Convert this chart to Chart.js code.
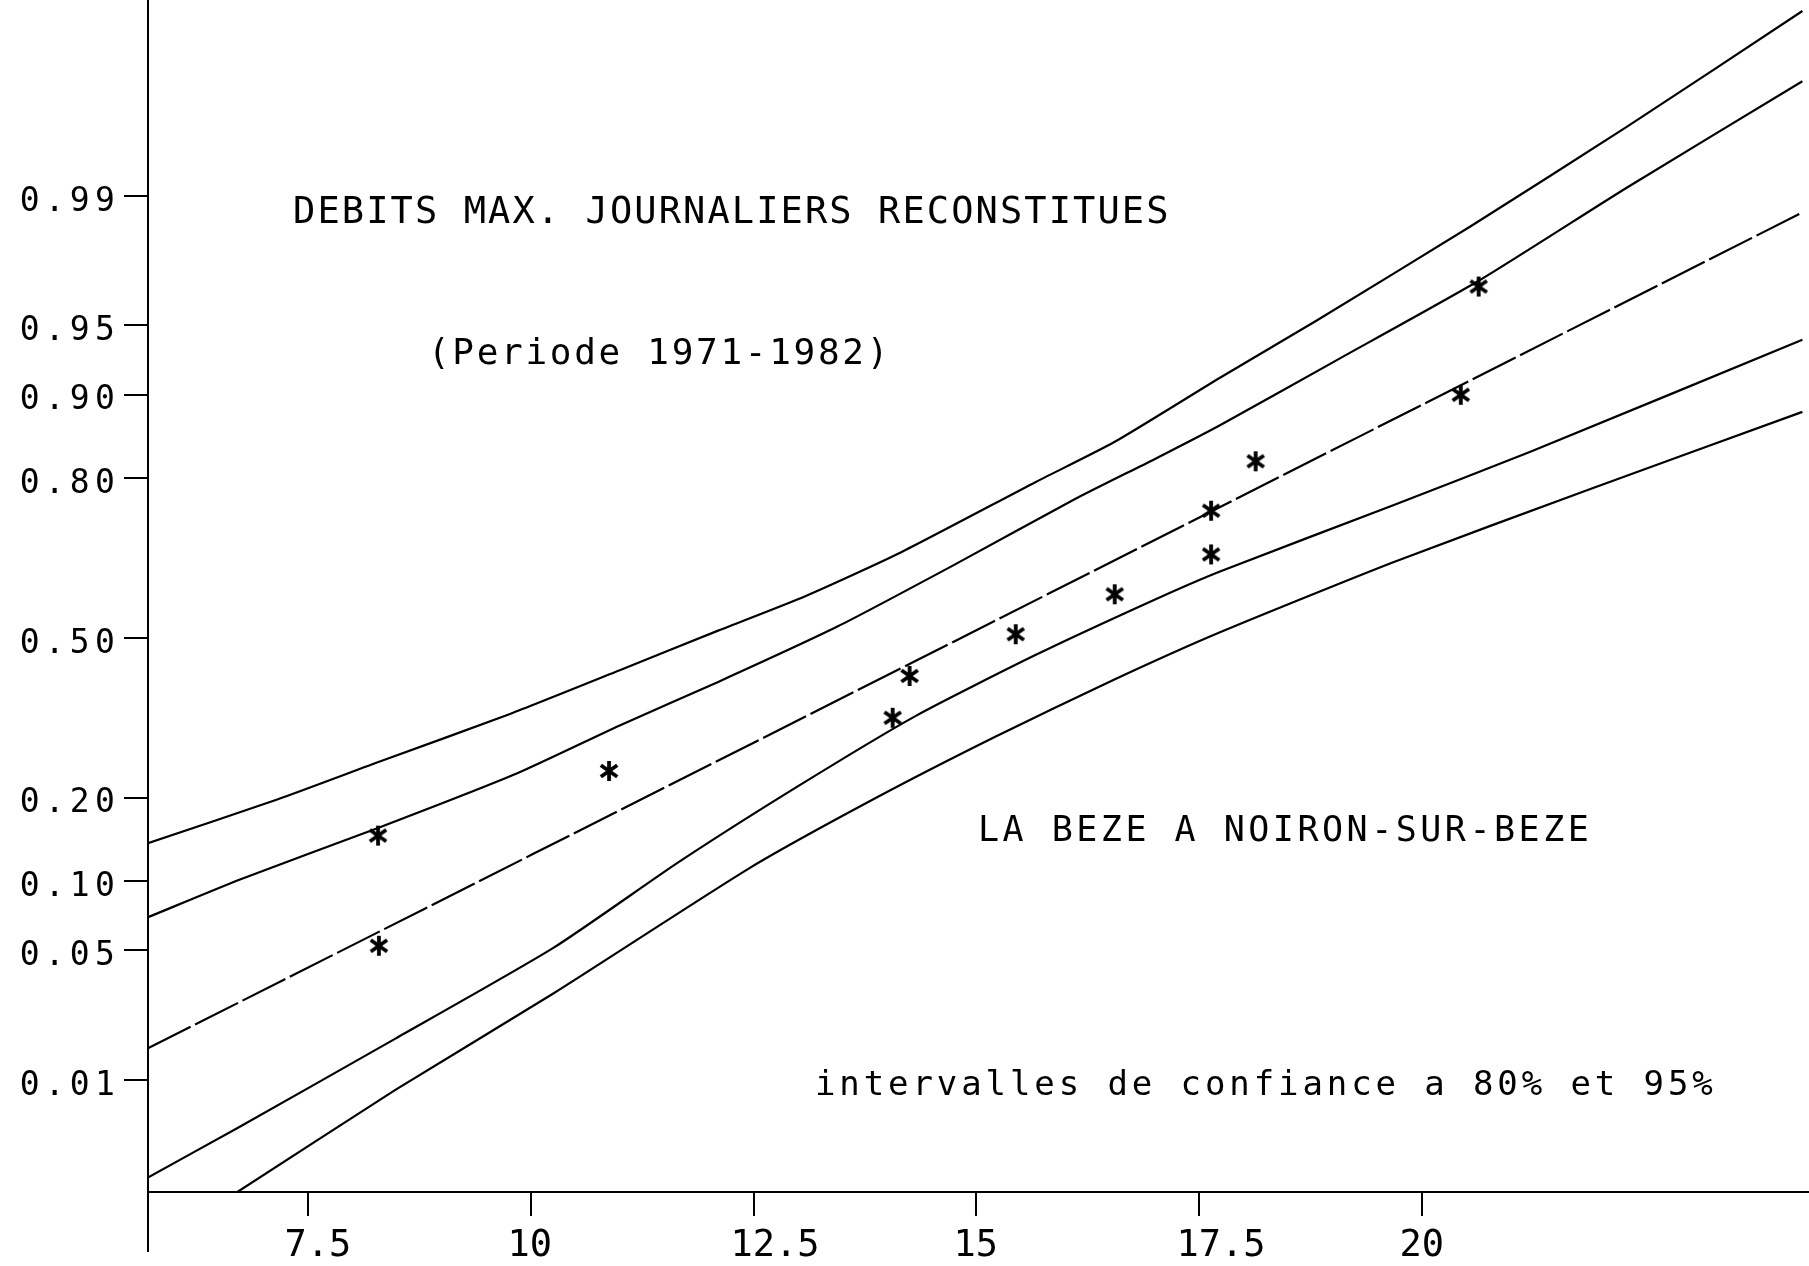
<!DOCTYPE html>
<html>
<head>
<meta charset="utf-8">
<script src="https://cdn.jsdelivr.net/npm/chart.js@4.4.1/dist/chart.umd.min.js"></script>
<style>
  html, body { margin: 0; padding: 0; background: #fff; }
  #wrap { width: 1809px; height: 1266px; }
</style>
</head>
<body>
<div id="wrap"><canvas id="myChart" width="1809" height="1266"></canvas></div>
<script>
// axes
const xTicks = [7.5, 10, 12.5, 15, 17.5, 20];
const probTicks = [0.01, 0.05, 0.10, 0.20, 0.50, 0.80, 0.90, 0.95, 0.99];
const probLabels = ['0.01', '0.05', '0.10', '0.20', '0.50', '0.80', '0.90', '0.95', '0.99'];

// debits observes (x) et variable reduite de Gauss (u)
const obsDebit = [8.30, 8.29, 10.88, 14.06, 14.25, 15.44, 16.55, 17.63, 17.63, 18.13, 20.43, 20.63];
const obsU = [-1.62, -1.04, -0.70, -0.42, -0.20, 0.02, 0.23, 0.44, 0.67, 0.93, 1.28, 1.85];

// droite d'ajustement
const ajustX = [5.71, 14.32, 24.26];
const ajustU = [-2.16, -0.12, 2.24];

// intervalle 95% (borne haute)
const sup95X = [5.71, 7.16, 8.31, 9.77, 11.00, 12.11, 13.08, 14.15, 15.66, 16.54, 17.73, 18.81, 20.55, 22.29, 24.26];
const sup95U = [-1.08, -0.85, -0.65, -0.40, -0.17, 0.04, 0.22, 0.45, 0.82, 1.03, 1.37, 1.67, 2.17, 2.69, 3.30];

// intervalle 80% (borne haute)
const sup80X = [5.71, 6.75, 8.29, 9.81, 11.00, 12.11, 13.44, 14.77, 16.10, 16.99, 17.73, 19.03, 20.63, 22.29, 24.26];
const sup80U = [-1.47, -1.27, -1.00, -0.72, -0.46, -0.23, 0.06, 0.39, 0.73, 0.94, 1.12, 1.46, 1.88, 2.37, 2.93];

// intervalle 80% (borne basse)
const inf80X = [5.71, 6.71, 8.48, 10.26, 11.66, 13.00, 14.32, 15.66, 16.99, 17.73, 19.68, 21.21, 24.26];
const inf80U = [-2.84, -2.58, -2.11, -1.63, -1.18, -0.78, -0.41, -0.09, 0.20, 0.35, 0.70, 0.98, 1.57];

// intervalle 95% (borne basse)
const inf95X = [6.70, 8.48, 10.26, 12.46, 13.88, 15.21, 16.54, 17.73, 19.68, 21.86, 24.26];
const inf95U = [-2.92, -2.38, -1.87, -1.21, -0.84, -0.52, -0.22, 0.03, 0.40, 0.78, 1.19];

// inverse of the normal distribution (Acklam)
function probit(p) {
  const a = [-3.969683028665376e+01, 2.209460984245205e+02, -2.759285104469687e+02, 1.383577518672690e+02, -3.066479806614716e+01, 2.506628277459239e+00];
  const b = [-5.447609879822406e+01, 1.615858368580409e+02, -1.556989798598866e+02, 6.680131188771972e+01, -1.328068155288572e+01];
  const c = [-7.784894002430293e-03, -3.223964580411365e-01, -2.400758277161838e+00, -2.549732539343734e+00, 4.374664141464968e+00, 2.938163982698783e+00];
  const d = [7.784695709041462e-03, 3.224671290700398e-01, 2.445134137142996e+00, 3.754408661907416e+00];
  const plow = 0.02425;
  let q, r;
  if (p < plow) {
    q = Math.sqrt(-2 * Math.log(p));
    return (((((c[0]*q+c[1])*q+c[2])*q+c[3])*q+c[4])*q+c[5]) / ((((d[0]*q+d[1])*q+d[2])*q+d[3])*q+1);
  }
  if (p > 1 - plow) {
    q = Math.sqrt(-2 * Math.log(1 - p));
    return -(((((c[0]*q+c[1])*q+c[2])*q+c[3])*q+c[4])*q+c[5]) / ((((d[0]*q+d[1])*q+d[2])*q+d[3])*q+1);
  }
  q = p - 0.5; r = q * q;
  return (((((a[0]*r+a[1])*r+a[2])*r+a[3])*r+a[4])*r+a[5])*q / (((((b[0]*r+b[1])*r+b[2])*r+b[3])*r+b[4])*r+1);
}

function pts(xs, ys) {
  return xs.map((x, i) => ({ x: x, y: ys[i] }));
}

// asterisk marker
const star = document.createElement('canvas');
star.width = 26; star.height = 26;
const sc = star.getContext('2d');
sc.strokeStyle = '#000';
sc.lineWidth = 3.8;
[90, 35, -35].forEach(function (deg) {
  const a = deg * Math.PI / 180;
  const dx = Math.cos(a) * 10, dy = Math.sin(a) * 10;
  sc.beginPath();
  sc.moveTo(13 - dx, 13 - dy);
  sc.lineTo(13 + dx, 13 + dy);
  sc.stroke();
});

const FONT = "'DejaVu Sans Mono', 'Liberation Mono', monospace";

const notes = [
  { text: 'DEBITS MAX. JOURNALIERS RECONSTITUES', x: 293, y: 213, size: 37, spacing: 2.1 },
  { text: '(Periode 1971-1982)', x: 428, y: 355, size: 36, spacing: 2.7 },
  { text: 'LA BEZE A NOIRON-SUR-BEZE', x: 978, y: 832, size: 35, spacing: 3.5 },
  { text: 'intervalles de confiance a 80% et 95%', x: 815, y: 1086, size: 34, spacing: 3.9 }
];

const plotterText = {
  id: 'plotterText',
  afterDraw(chart) {
    const ctx = chart.ctx;
    const area = chart.chartArea;
    const ys = chart.scales.y;
    ctx.save();
    // y axis continues below the x axis
    ctx.strokeStyle = '#000';
    ctx.lineWidth = 2;
    ctx.beginPath();
    ctx.moveTo(area.left, area.bottom);
    ctx.lineTo(area.left, area.bottom + 60);
    ctx.stroke();
    ctx.fillStyle = '#000';
    // probability labels, wide plotter spacing
    ctx.font = '33px ' + FONT;
    ctx.letterSpacing = '5.2px';
    ctx.textAlign = 'right';
    ctx.textBaseline = 'middle';
    ys.ticks.forEach(function (t, i) {
      ctx.fillText(probLabels[i], ys.right - 28, ys.getPixelForValue(t.value) + 6);
    });
    ctx.textAlign = 'left';
    notes.forEach(function (n) {
      ctx.font = n.size + 'px ' + FONT;
      ctx.letterSpacing = n.spacing + 'px';
      ctx.fillText(n.text, n.x, n.y);
    });
    ctx.restore();
  }
};

function lineSet(label, xs, ys, dash) {
  return {
    label: label,
    data: pts(xs, ys),
    showLine: true,
    borderColor: '#000',
    borderWidth: 2.2,
    borderDash: dash || [],
    pointRadius: 0,
    tension: 0.2,
    fill: false
  };
}

const ctx = document.getElementById('myChart').getContext('2d');
const myChart = new Chart(ctx, {
  type: 'scatter',
  data: {
    datasets: [
      lineSet('95% sup', sup95X, sup95U),
      lineSet('80% sup', sup80X, sup80U),
      lineSet('ajustement', ajustX, ajustU, [48, 5]),
      lineSet('80% inf', inf80X, inf80U),
      lineSet('95% inf', inf95X, inf95U),
      {
        label: 'debits',
        data: pts(obsDebit, obsU),
        showLine: false,
        pointStyle: star,
        pointRadius: 10
      }
    ]
  },
  options: {
    responsive: false,
    animation: false,
    devicePixelRatio: 1,
    layout: { padding: 0, autoPadding: false },
    plugins: {
      legend: { display: false },
      tooltip: { enabled: false }
    },
    scales: {
      x: {
        type: 'linear',
        min: 5.711,
        max: 24.334,
        afterBuildTicks: function (s) { s.ticks = xTicks.map(v => ({ value: v })); },
        afterFit: function (s) { s.height = 74; s.paddingLeft = 0; s.paddingRight = 0; },
        border: { display: true, color: '#000', width: 2 },
        grid: { drawOnChartArea: false, drawTicks: true, tickLength: 24, color: '#000', lineWidth: 2 },
        ticks: {
          color: '#000',
          font: { family: FONT, size: 37 },
          padding: 8,
          align: 'start',
          labelOffset: -23,
          maxRotation: 0,
          autoSkip: false,
          callback: v => String(v)
        }
      },
      y: {
        type: 'linear',
        min: -2.916,
        max: 3.358,
        afterBuildTicks: function (s) { s.ticks = probTicks.map(p => ({ value: probit(p) })); },
        afterFit: function (s) { s.width = 148; s.paddingTop = 0; s.paddingBottom = 0; },
        border: { display: true, color: '#000', width: 2 },
        grid: { drawOnChartArea: false, drawTicks: true, tickLength: 24, color: '#000', lineWidth: 2 },
        ticks: {
          display: false,
          autoSkip: false,
          callback: (v, i) => probLabels[i]
        }
      }
    }
  },
  plugins: [plotterText]
});
</script>
</body>
</html>
